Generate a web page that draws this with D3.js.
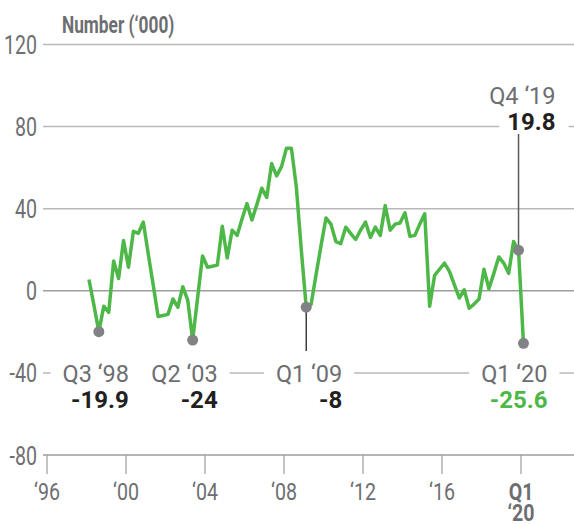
<!DOCTYPE html>
<html>
<head>
<meta charset="utf-8">
<script src="https://cdn.jsdelivr.net/npm/d3@7"></script>
<style>
  body { margin: 0; background: #fff; }
  text { font-family: Roboto, "Liberation Sans", sans-serif; }
</style>
</head>
<body>
<div id="chart"></div>
<script>
// quarterly change in employment, '000, starting Q1 1998
const startYear = 1998;
const values = [
    5.5, -7, -19.9, -7.5,      // 1998
    -10.5, 14.5, 6, 24.5,      // 1999
    11.5, 29, 28, 33.5,        // 2000
    18, 3, -12.5, -12,         // 2001
    -11.5, -4, -8, 2,          // 2002
    -4.5, -24, -3.5, 17,       // 2003
    11.5, 12, 12.5, 31.5,      // 2004
    16, 29.5, 27, 35,          // 2005
    42.5, 34.5, 42, 50,        // 2006
    45.5, 62, 56, 60.5,        // 2007
    69.5, 69.5, 50.5, 20,      // 2008
    -8, -6.5, 8, 22,           // 2009
    35.5, 32.5, 24, 23,        // 2010
    31, 28, 25, 29.5,          // 2011
    33.5, 26, 31, 27,          // 2012
    41.5, 29.5, 32.5, 33,      // 2013
    38, 26.5, 27, 32.5,        // 2014
    37.5, -7.5, 7.5, 10.5,     // 2015
    13.5, 9.5, 3, -3.5,        // 2016
    0.5, -8.5, -6.5, -4,       // 2017
    10.5, 1, 8.5, 16.5,        // 2018
    13.5, 8.5, 24, 19.8,       // 2019
    -25.6                      // 2020
];
const yTicks = [120, 80, 40, 0, -40];
const xTicks = [1996, 2000, 2004, 2008, 2012, 2016, 2020];
const xTickLabels = ['‘96', '‘00', '‘04', '‘08', '‘12', '‘16', 'Q1'];
const callouts = [
    { quarter: 'Q3 ‘98', index: 2, label: '-19.9' },
    { quarter: 'Q2 ‘03', index: 21, label: '-24' },
    { quarter: 'Q1 ‘09', index: 44, label: '-8' },
    { quarter: 'Q1 ‘20', index: 88, label: '-25.6' }
];
const topCallout = { quarter: 'Q4 ‘19', index: 87, label: '19.8' };

const width = 574, height = 524;
const grey = '#6d6e71', dark = '#231f20', green = '#4db848';

const svg = d3.select('#chart').append('svg')
    .attr('width', width)
    .attr('height', height);

const x = d3.scaleLinear().domain([1996, 2020]).range([47, 521]);
const y = d3.scaleLinear().domain([-80, 120]).range([455, 44.5]);
const qDate = i => startYear + i / 4 + 0.125;

// text helper, sx squeezes the face to look condensed
function label(parent, tx, ty, str, o) {
    return parent.append('text')
        .attr('transform', `translate(${tx},${ty}) scale(${o.sx || 1},1)`)
        .attr('text-anchor', o.anchor || 'start')
        .attr('fill', o.fill || grey)
        .style('font-size', o.size + 'px')
        .style('font-weight', o.bold ? 'bold' : 'normal')
        .text(str);
}

// gridlines
svg.selectAll('.grid')
    .data(yTicks)
    .enter().append('line')
    .attr('x1', 43).attr('x2', width)
    .attr('y1', d => y(d)).attr('y2', d => y(d))
    .attr('stroke', d => d === 0 ? '#9d9d9f' : '#b8b8ba')
    .attr('stroke-width', 1.5);

yTicks.concat([-80]).forEach(d => {
    label(svg, 37, y(d) + 9.5, d, { size: 26.5, sx: 0.74, anchor: 'end' });
});

label(svg, 62, 33, 'Number (‘000)', { size: 24, sx: 0.72, bold: true });

// x axis
const xAxis = svg.append('g').attr('transform', `translate(0,${y(-80)})`);
xAxis.append('line')
    .attr('x1', 43).attr('x2', width)
    .attr('stroke', '#9d9d9f').attr('stroke-width', 1.5);
xAxis.selectAll('.tick')
    .data(xTicks)
    .enter().append('line')
    .attr('x1', d => x(d)).attr('x2', d => x(d))
    .attr('y1', 0).attr('y2', 19)
    .attr('stroke', '#9d9d9f').attr('stroke-width', 1.2);
xTicks.forEach((d, i) => {
    label(xAxis, x(d), 44.5, xTickLabels[i],
        { size: 24.5, sx: 0.8, anchor: 'middle', bold: i === xTicks.length - 1 });
});
label(xAxis, x(2020), 65.5, '‘20', { size: 24.5, sx: 0.8, anchor: 'middle', bold: true });

// callout labels along -40 line
const dx = { 2: 30, 21: 25, 44: 36, 88: 24 };
const cg = svg.append('g');
callouts.forEach(c => {
    const right = x(qDate(c.index)) + dx[c.index];
    const g = cg.append('g');
    const bg = g.append('rect').attr('fill', '#fff');
    const t1 = label(g, right, 382, c.quarter, { size: 23.5, anchor: 'end' });
    label(g, right, 407.5, c.label,
        { size: 24, anchor: 'end', bold: true, fill: c.index === 88 ? green : dark });
    const b = t1.node().getBoundingClientRect();
    bg.attr('x', b.left - 12).attr('width', b.width + 24)
        .attr('y', y(-40) - 4).attr('height', 8);
});

// Q4 '19 callout on the 80 line
const tx = x(qDate(topCallout.index));
const tg = svg.append('g');
const tbg = tg.append('rect').attr('fill', '#fff');
label(tg, tx + 37, 104, topCallout.quarter, { size: 23.5, anchor: 'end' });
const tv = label(tg, tx + 37, 130, topCallout.label, { size: 24, anchor: 'end', bold: true, fill: dark });
const tb = tv.node().getBoundingClientRect();
tbg.attr('x', tb.left - 8).attr('width', tb.width + 21)
    .attr('y', y(80) - 4).attr('height', 8);

// leader lines
svg.append('line')
    .attr('x1', x(qDate(44))).attr('x2', x(qDate(44)))
    .attr('y1', y(values[44])).attr('y2', 351)
    .attr('stroke', dark).attr('stroke-width', 1.3);
svg.append('line')
    .attr('x1', tx).attr('x2', tx)
    .attr('y1', y(values[87])).attr('y2', 134)
    .attr('stroke', '#58595b').attr('stroke-width', 1.5);

// series line
const line = d3.line()
    .x((d, i) => x(qDate(i)))
    .y(d => y(d));
svg.append('path')
    .datum(values)
    .attr('d', line)
    .attr('fill', 'none')
    .attr('stroke', green)
    .attr('stroke-width', 3.5)
    .attr('stroke-linejoin', 'round');

// highlighted points
svg.selectAll('.dot')
    .data(callouts.concat([topCallout]))
    .enter().append('circle')
    .attr('cx', d => x(qDate(d.index)))
    .attr('cy', d => y(values[d.index]))
    .attr('r', 5.5)
    .attr('fill', '#808285');
</script>
</body>
</html>
